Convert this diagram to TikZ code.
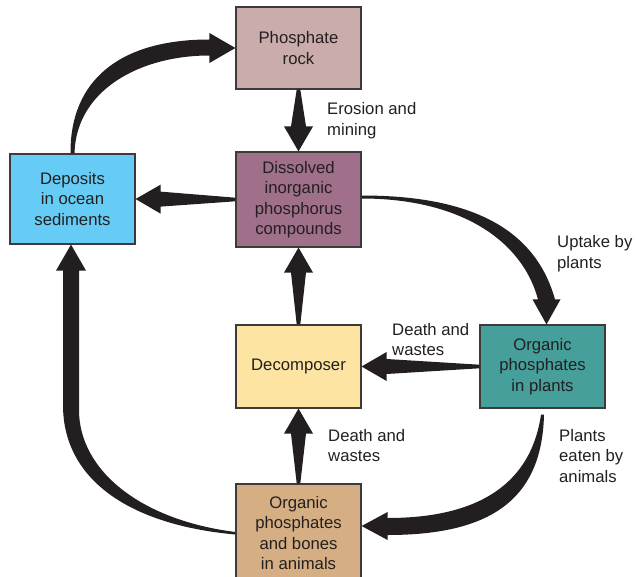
\documentclass[tikz,border=0pt]{standalone}
\usepackage{fontspec}
\setmainfont{Liberation Sans}
\usetikzlibrary{calc}
\definecolor{ink}{HTML}{231F20}
\definecolor{edge}{HTML}{3E3A3A}
\definecolor{rockfill}{HTML}{CAADAA}
\definecolor{dissfill}{HTML}{A0708B}
\definecolor{oceanfill}{HTML}{66CCF5}
\definecolor{decofill}{HTML}{FEE4A2}
\definecolor{plantfill}{HTML}{469F9B}
\definecolor{animalfill}{HTML}{D5AF83}

\begin{document}
\begin{tikzpicture}[
  x=1pt,y=-1pt,
  every node/.style={font=\fontsize{16.7}{20.5}\selectfont,text=ink},
  box/.style={draw=edge,line width=1.2pt,minimum width=125pt,align=center,
              inner sep=0pt},
  note/.style={anchor=west,align=left,inner sep=0pt},
  flow/.style={fill=ink},
  taper/.style={to path={
    ($(\tikztostart)!1.8pt!90:(\tikztotarget)$)
    -- ($(\tikztotarget)!25pt!(\tikztostart)!7.5pt!-90:(\tikztostart)$)
    -- ($(\tikztotarget)!25pt!(\tikztostart)!14.5pt!-90:(\tikztostart)$)
    -- (\tikztotarget)
    -- ($(\tikztotarget)!25pt!(\tikztostart)!14.5pt!90:(\tikztostart)$)
    -- ($(\tikztotarget)!25pt!(\tikztostart)!7.5pt!90:(\tikztostart)$)
    -- ($(\tikztostart)!1.8pt!-90:(\tikztotarget)$) -- cycle}}
]
\useasboundingbox (0,0) rectangle (636,577);

\node[box,fill=rockfill,minimum height=82pt] (rock) at (298.5,48) {Phosphate\\rock};
\node[box,fill=dissfill,minimum height=95pt] (diss) at (298.5,199.5)
  {Dissolved\\inorganic\\phosphorus\\compounds};
\node[box,fill=oceanfill,minimum height=90pt] (ocean) at (72.5,199)
  {Deposits\\in ocean\\sediments};
\node[box,fill=decofill,minimum height=83pt] (deco) at (298.5,366.5) {Decomposer};
\node[box,fill=plantfill,minimum height=83pt] (plant) at (542.5,366.5)
  {Organic\\phosphates\\in plants};
\node[box,fill=animalfill,minimum height=98pt] (animal) at (298.5,533)
  {Organic\\phosphates\\and bones\\in animals};

% straight flows
\fill[flow] (rock.south) to[taper] (diss.north);
\fill[flow] (diss.west) to[taper] (ocean.east);
\fill[flow] (plant.west) to[taper] (deco.east);
\fill[flow] (deco.north) to[taper] (diss.south);
\fill[flow] (animal.north) to[taper] (deco.south);

% curved flows
\fill[flow] ($(ocean.north)+(-2,0)$) .. controls (70,80) and (120,39.5)
  .. ($(rock.west)+(-26,-8.5)$) -- ($(rock.west)+(-26,-15)$) -- (rock.west)
  -- ($(rock.west)+(-26,15)$) -- ($(rock.west)+(-26,7.5)$)
  .. controls (140,55.5) and (76,90) .. ($(ocean.north)+(2,0)$) -- cycle;
\fill[flow] ($(diss.east)+(0,-4)$) .. controls (470,195.5) and (535,228)
  .. ($(plant.north)+(12.5,-25)$) -- ($(plant.north)+(18,-25)$)
  -- ($(plant.north)+(4,0)$) -- ($(plant.north)+(-10,-25)$)
  -- ($(plant.north)+(-4.5,-25)$) .. controls (522,240) and (460,198.5)
  .. ($(diss.east)+(0,-1)$) -- cycle;
\fill[flow] ($(plant.south)+(1.5,6)$) .. controls (542,500) and (490,535)
  .. ($(animal.east)+(26,2)$) -- ($(animal.east)+(26,7)$) -- ($(animal.east)+(0,-7)$)
  -- ($(animal.east)+(26,-21)$) -- ($(animal.east)+(26,-15)$)
  .. controls (470,518) and (530,490) .. ($(plant.south)+(-1.5,6)$) -- cycle;
\fill[flow] ($(animal.west)+(0,1.5)$) .. controls (130,525) and (63,480)
  .. (63,405) -- ($(ocean.south)+(-9.5,26)$) -- ($(ocean.south)+(-16.5,26)$)
  -- ($(ocean.south)+(-1.5,0)$) -- ($(ocean.south)+(13.5,26)$)
  -- ($(ocean.south)+(6.5,26)$) -- (79,410) .. controls (79,470) and (140,520)
  .. ($(animal.west)+(0,-1)$) -- cycle;

\node[note] (erosion) at (327,120.5) {Erosion and\\mining};
\node[note] (uptake) at (557,253.5) {Uptake by\\plants};
\node[note] (dwplant) at (392,339.5) {Death and\\wastes};
\node[note] (dwanimal) at (328,445.5) {Death and\\wastes};
\node[note] (eaten) at (559,456) {Plants\\eaten by\\animals};
\end{tikzpicture}
\end{document}
